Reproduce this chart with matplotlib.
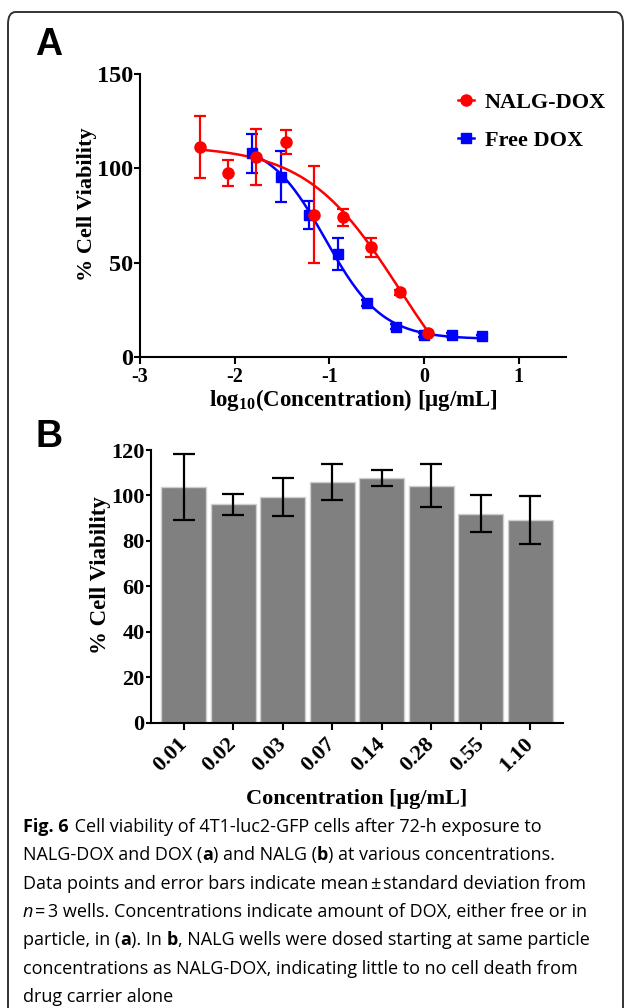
import numpy as np
import matplotlib
matplotlib.use("Agg")
import matplotlib.pyplot as plt
from matplotlib.lines import Line2D
from matplotlib.patches import FancyBboxPatch
from matplotlib.font_manager import FontProperties

# Panel A: dose response, x = log10 concentration
nalg_logc = [-2.37, -2.07, -1.77, -1.46, -1.16, -0.855, -0.555, -0.254, 0.047]
nalg_mean = [111.2, 97.7, 106.1, 114.0, 75.4, 74.0, 58.2, 34.2, 12.9]
nalg_sd = [16.5, 6.9, 14.7, 6.5, 25.7, 4.7, 5.1, 1.5, 1.0]

free_logc = [-1.816, -1.51, -1.215, -0.905, -0.604, -0.296, 0.004, 0.30, 0.61]
free_mean = [107.9, 95.6, 75.4, 54.7, 28.7, 16.1, 11.6, 11.5, 11.0]
free_sd = [10.5, 13.6, 7.3, 8.5, 1.5, 1.2, 1.0, 1.0, 0.8]

# fitted 4-parameter logistic curves: top, bottom, logIC50, hill slope
nalg_fit = (112.0, -40.0, -0.26, 0.88)
free_fit = (115.0, 9.5, -1.04, 1.45)

# Panel B: NALG carrier alone
b_conc = ["0.01", "0.02", "0.03", "0.07", "0.14", "0.28", "0.55", "1.10"]
b_mean = [103.7, 96.1, 99.2, 105.9, 107.7, 104.3, 92.0, 89.1]
b_sd = [14.5, 4.5, 8.4, 8.0, 3.5, 9.6, 8.3, 10.6]

# caption runs: (text, weight, style); ("", "gap", px) adds a small space
caption = [
    [("Fig. 6", "bold", "normal"), ("", "gap", 1),
     (" Cell viability of 4T1-luc2-GFP cells after 72-h exposure to", "normal", "normal")],
    [("NALG-DOX and DOX (", "normal", "normal"), ("a", "bold", "normal"), (") and NALG (", "normal", "normal"),
     ("b", "bold", "normal"), (") at various concentrations.", "normal", "normal")],
    [("Data points and error bars indicate mean", "normal", "normal"), ("", "gap", 2),
     ("\u00b1", "normal", "normal"), ("", "gap", 2),
     ("standard deviation from", "normal", "normal")],
    [("n", "normal", "italic"), ("", "gap", 2), ("=", "normal", "normal"), ("", "gap", 2),
     ("3 wells. Concentrations indicate amount of DOX, either free or in", "normal", "normal")],
    [("particle, in (", "normal", "normal"), ("a", "bold", "normal"), ("). In ", "normal", "normal"),
     ("b", "bold", "normal"), (", NALG wells were dosed starting at same particle", "normal", "normal")],
    [("concentrations as NALG-DOX, indicating little to no cell death from", "normal", "normal")],
    [("drug carrier alone", "normal", "normal")],
]

W, H = 629, 1008
plt.rcParams["font.family"] = "Liberation Serif"
plt.rcParams["font.weight"] = "bold"
plt.rcParams["axes.unicode_minus"] = False
plt.rcParams["mathtext.fontset"] = "custom"
plt.rcParams["mathtext.rm"] = "Liberation Serif:bold"
plt.rcParams["mathtext.bf"] = "Liberation Serif:bold"

fig = plt.figure(figsize=(W / 100, H / 100), dpi=100)


def logistic(x, p):
    top, bottom, c, h = p
    return bottom + (top - bottom) / (1 + 10 ** ((x - c) * h))


def style_axes(ax, xsize, ysize, ylen):
    for s in ["top", "right"]:
        ax.spines[s].set_visible(False)
    for s in ["left", "bottom"]:
        ax.spines[s].set_linewidth(1.5)
    ax.tick_params(direction="out", width=1.5)
    ax.tick_params(axis="x", labelsize=xsize, length=5, pad=2.5)
    ax.tick_params(axis="y", labelsize=ysize, length=ylen, pad=1)
    for lab in ax.get_xticklabels() + ax.get_yticklabels():
        lab.set_fontweight("bold")


# ---- Panel A ----
axA = fig.add_axes([140 / W, 1 - 357 / H, 426 / W, 283 / H])
for logc, mean, sd, fit, color, mk, ms in [
    (free_logc, free_mean, free_sd, free_fit, "#0000ff", "s", 7.5),
    (nalg_logc, nalg_mean, nalg_sd, nalg_fit, "#ff0000", "o", 8),
]:
    xs = np.linspace(min(logc), max(logc), 200)
    axA.plot(xs, logistic(xs, fit), color=color, lw=1.8)
    axA.errorbar(logc, mean, yerr=sd, fmt=mk, color=color, ms=ms,
                 capsize=4, elinewidth=1.6, capthick=1.6)
axA.set_xlim(-3, 1.5)
axA.set_ylim(0, 150)
axA.set_xticks([-3, -2, -1, 0, 1])
axA.set_yticks([0, 50, 100, 150])
style_axes(axA, 14.5, 17.5, 4)
axA.set_xlabel("log$_{\\mathrm{10}}$(Concentration) [\u03bcg/mL]",
               fontsize=16.5, fontweight="bold", labelpad=0)
axA.set_ylabel("% Cell Viability", fontsize=16, fontweight="bold")
axA.yaxis.set_label_coords(-0.102, 0.54)

handles = [Line2D([], [], color="#ff0000", marker="o", ms=8, lw=1.8),
           Line2D([], [], color="#0000ff", marker="s", ms=7.5, lw=1.8)]
axA.legend(handles, ["NALG-DOX", "Free DOX"], loc="upper left", frameon=False,
           bbox_to_anchor=(447 / W, 1 - 81 / H), bbox_transform=fig.transFigure,
           borderpad=0, handlelength=0.7, handletextpad=0.5, labelspacing=0.8,
           prop={"family": "Liberation Serif", "weight": "bold", "size": 16})

# ---- Panel B ----
axB = fig.add_axes([150.7 / W, 1 - 722.7 / H, 412.6 / W, 272.7 / H])
xb = np.arange(len(b_conc))
axB.bar(xb, b_mean, width=0.91, color="#808080", edgecolor="#cfcfcf", lw=1)
axB.errorbar(xb, b_mean, yerr=b_sd, fmt="none", ecolor="black",
             elinewidth=1.6, capsize=8, capthick=1.6)
axB.set_xlim(-0.667, 7.667)
axB.set_ylim(0, 120)
axB.set_yticks(range(0, 121, 20))
axB.set_xticks(xb)
axB.set_xticklabels(b_conc)
style_axes(axB, 16, 16, 3.5)
for lab in axB.get_xticklabels():
    lab.set_rotation(45)
    lab.set_ha("right")
    lab.set_va("center")
    lab.set_rotation_mode("anchor")
axB.tick_params(axis="x", pad=8)
axB.set_xlabel("Concentration [\u03bcg/mL]", fontsize=16, fontweight="bold", labelpad=10)
axB.set_ylabel("% Cell Viability", fontsize=16.5, fontweight="bold")
axB.yaxis.set_label_coords(-0.097, 0.54)

# panel letters
fig.text(35 / W, 1 - 55 / H, "A", family="Liberation Sans", weight="bold", fontsize=27)
fig.text(35 / W, 1 - 447 / H, "B", family="Liberation Sans", weight="bold", fontsize=27)

# rounded frame
fig.patches.append(FancyBboxPatch((8 / W, -0.05), 615 / W, 1 - 12 / H + 0.05,
                                  boxstyle="round,pad=0,rounding_size=0.012",
                                  transform=fig.transFigure, fill=False,
                                  ec="#333333", lw=1.4))

# caption with mixed bold / italic runs
renderer = fig.canvas.get_renderer()
cap_size = 13.0


def run_width(text, weight, style):
    prop = FontProperties(family="Open Sans", weight=weight, style=style, size=cap_size)
    w1 = renderer.get_text_width_height_descent("|" + text + "|", prop, ismath=False)[0]
    w0 = renderer.get_text_width_height_descent("||", prop, ismath=False)[0]
    return w1 - w0


for i, line in enumerate(caption):
    x = 23.0
    y = 832 + i * 28.3
    for text, weight, style in line:
        if weight == "gap":
            x += style
            continue
        fig.text(x / W, 1 - y / H, text, family="Open Sans", weight=weight,
                 style=style, fontsize=cap_size, va="baseline", ha="left")
        x += run_width(text, weight, style)

fig.savefig("out.png", dpi=100)
